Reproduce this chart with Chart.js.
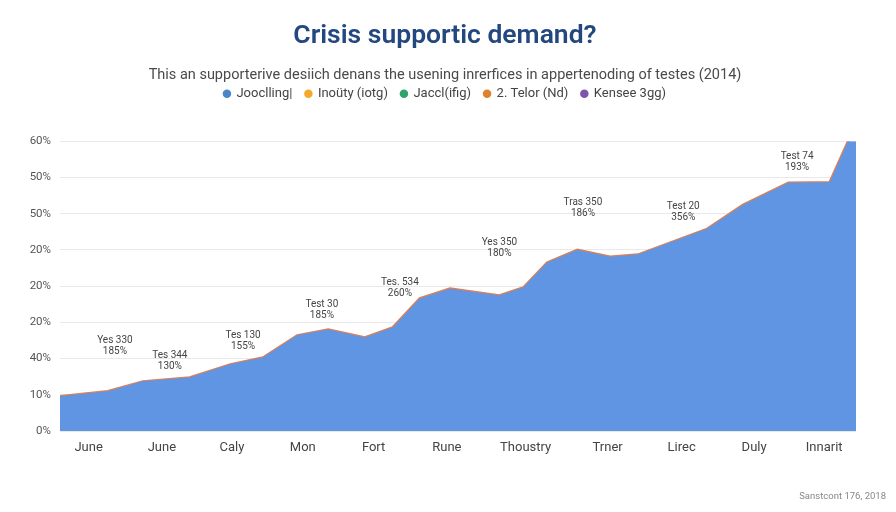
<!DOCTYPE html>
<html>
<head>
<meta charset="utf-8">
<title>Crisis supportic demand?</title>
<script src="https://cdn.jsdelivr.net/npm/chart.js@4/dist/chart.umd.min.js"></script>
<style>
  html, body { margin: 0; padding: 0; background: #fff; }
  #wrap { width: 896px; height: 512px; }
</style>
</head>
<body>
<div id="wrap"><canvas id="myChart" width="896" height="512"></canvas></div>
<script>
// x runs 0-100 across the plot, y runs 0-80 (the tick labels in the picture do not count evenly)
const categories = ['June', 'June', 'Caly', 'Mon', 'Fort', 'Rune', 'Thoustry', 'Trner', 'Lirec', 'Duly', 'Innarit'];
const categoryAt = [3.6, 12.8, 21.6, 30.5, 39.4, 48.6, 58.5, 68.8, 78.1, 87.2, 96];
const yLabels = ['0%', '10%', '40%', '20%', '20%', '20%', '50%', '50%', '60%'];

const seriesX = [0, 6, 10.4, 16.3, 21.4, 25.5, 29.8, 33.7, 38.3, 41.8, 45.2, 49, 55.2, 58.2, 61.2, 65, 69.1, 72.6, 81.3, 85.8, 91.5, 96.7, 99, 100];
const seriesY = [9.6, 11, 13.7, 14.8, 18.4, 20.3, 26.4, 28, 25.8, 28.6, 36.6, 39.3, 37.4, 39.6, 46.5, 50, 48.1, 48.7, 55.8, 62.4, 68.5, 68.7, 80, 85];

const legendNames = ['Jooclling|', 'Inoüty (iotg)', 'Jaccl(ifig)', '2. Telor (Nd)', 'Kensee 3gg)'];
const legendColors = ['#4a86c5', '#f5a92c', '#2fa36b', '#e0812f', '#7d55ab'];

const noteTitles = ['Yes 330', 'Tes 344', 'Tes 130', 'Test 30', 'Tes. 534', 'Yes 350', 'Tras 350', 'Test 20', 'Test 74'];
const notePcts = ['185%', '130%', '155%', '185%', '260%', '180%', '186%', '356%', '193%'];
const noteX = [6.9, 13.8, 23, 32.9, 42.7, 55.2, 65.7, 78.3, 92.6];
const noteY = [25, 20.9, 26.4, 34.9, 41, 52, 63.2, 62.1, 75.9];

const points = seriesX.map((x, i) => ({ x: x, y: seriesY[i] }));

// leaves the gap between legend and plot
const legendGap = {
    id: 'legendGap',
    beforeInit(chart) {
        const fit = chart.legend.fit;
        chart.legend.fit = function () {
            fit.call(this);
            this.height += 31;
        };
    }
};

// the small two line notes and the source line
const notes = {
    id: 'notes',
    afterDatasetsDraw(chart) {
        const c = chart.ctx;
        const sx = chart.scales.x;
        const sy = chart.scales.y;
        c.save();
        c.textAlign = 'center';
        c.textBaseline = 'middle';
        c.fillStyle = '#444';
        c.font = '10px Roboto';
        noteTitles.forEach((t, i) => {
            const px = sx.getPixelForValue(noteX[i]);
            const py = sy.getPixelForValue(noteY[i]);
            c.fillText(t, px, py);
            c.fillText(notePcts[i], px, py + 11);
        });
        c.textAlign = 'right';
        c.fillStyle = '#888';
        c.font = '9.5px Roboto';
        c.fillText('Sanstcont 176, 2018', 886, 497);
        c.restore();
    }
};

const datasets = legendNames.map((name, i) => ({
    label: name,
    data: i === 0 || i === 3 ? points : [],
    backgroundColor: legendColors[i],
    borderColor: legendColors[i],
    pointRadius: 0,
    borderWidth: 0,
    tension: 0
}));
datasets[0].backgroundColor = '#5f95e3';
datasets[0].fill = 'origin';
datasets[3].fill = false;
datasets[3].borderWidth = 2.5;
datasets[3].borderColor = '#d8805a';

new Chart(document.getElementById('myChart').getContext('2d'), {
    type: 'line',
    data: { datasets: datasets },
    plugins: [legendGap, notes],
    options: {
        responsive: false,
        animation: false,
        layout: { padding: { left: 0, right: 6, top: 0, bottom: 0 } },
        plugins: {
            title: {
                display: true,
                text: 'Crisis supportic demand?',
                color: '#23487f',
                font: { family: 'Roboto', size: 26.5, weight: '600' },
                padding: { top: 20, bottom: 15 }
            },
            subtitle: {
                display: true,
                text: 'This an supporterive desiich denans the usening inrerfices in appertenoding of testes (2014)',
                color: '#4a4a4a',
                font: { family: 'Roboto', size: 14.5 },
                padding: { top: 0, bottom: -10 }
            },
            legend: {
                display: true,
                labels: {
                    usePointStyle: true,
                    pointStyle: 'circle',
                    boxWidth: 6,
                    boxHeight: 6,
                    padding: 13,
                    color: '#444',
                    font: { family: 'Roboto', size: 13 },
                    generateLabels(chart) {
                        return legendNames.map((name, i) => ({
                            text: name,
                            fillStyle: legendColors[i],
                            strokeStyle: legendColors[i],
                            lineWidth: 0,
                            pointStyle: 'circle',
                            datasetIndex: i,
                            fontColor: '#444'
                        }));
                    }
                }
            },
            tooltip: { enabled: false }
        },
        scales: {
            x: {
                type: 'linear',
                min: 0,
                max: 100,
                afterBuildTicks(axis) {
                    axis.ticks = categoryAt.map(v => ({ value: v }));
                },
                afterFit(axis) {
                    axis.height = 81;
                },
                border: { display: false },
                grid: { display: false, drawTicks: false },
                ticks: {
                    autoSkip: false,
                    maxRotation: 0,
                    padding: 9,
                    color: '#444',
                    font: { family: 'Roboto', size: 13 },
                    callback(value) {
                        return categories[categoryAt.indexOf(value)];
                    }
                }
            },
            y: {
                min: 0,
                max: 80,
                afterFit(axis) {
                    axis.width = 60;
                },
                border: { display: false },
                grid: { color: '#e9e9e9', lineWidth: 1, drawTicks: false },
                ticks: {
                    stepSize: 10,
                    padding: 9,
                    color: '#555',
                    font: { family: 'Roboto', size: 11.5 },
                    callback(value) {
                        return yLabels[value / 10];
                    }
                }
            },
            // empty axis, only holds the plot away from the right edge
            spacer: {
                position: 'right',
                min: 0,
                max: 80,
                afterFit(axis) {
                    axis.width = 34;
                },
                border: { display: false },
                grid: { display: false },
                ticks: { display: false }
            }
        }
    }
});
</script>
</body>
</html>
